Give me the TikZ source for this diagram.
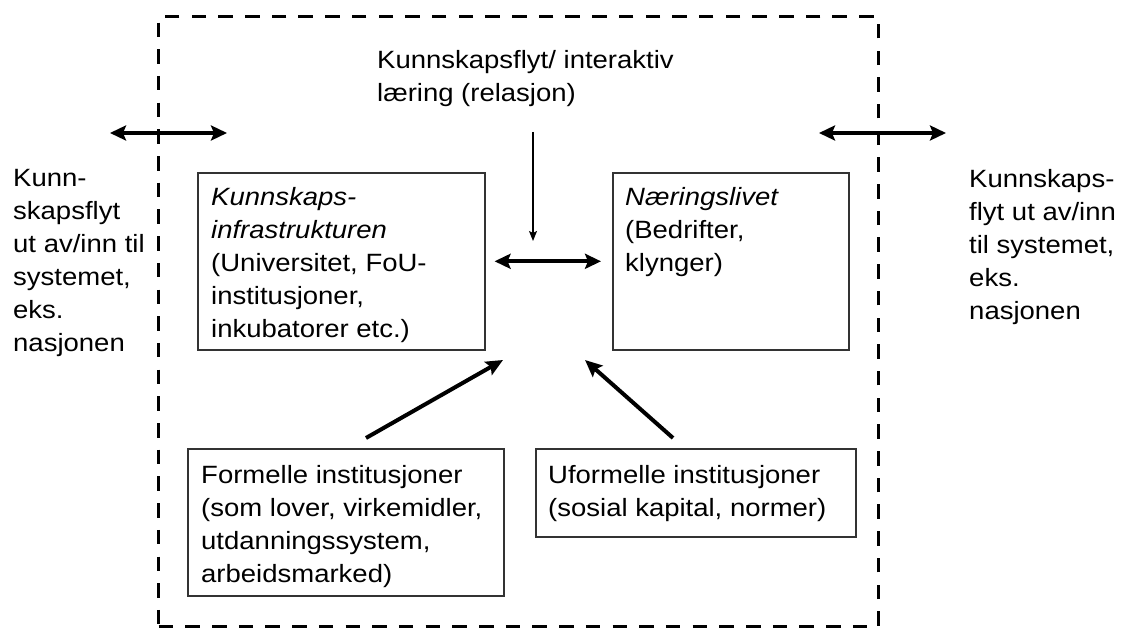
\documentclass[tikz,border=0pt]{standalone}
\usepackage{fontspec}
\setmainfont{Liberation Sans}[FakeStretch=1.1]
\usetikzlibrary{arrows.meta}
\begin{document}
\begin{tikzpicture}[x=1pt,y=-1pt,
  txt/.style={inner sep=0pt,anchor=north west,align=left,font=\fontsize{25}{33}\selectfont,text=black},
  boxframe/.style={draw=black!80,line width=1.6pt,inner sep=0pt,anchor=north west},
  frame/.style={draw=black,line width=3.3pt,dash pattern=on 14.5pt off 12.2pt,inner sep=0pt,anchor=north west},
  dbl/.style={line width=4pt,{Stealth[length=16pt,width=15pt,inset=3pt]}-{Stealth[length=16pt,width=15pt,inset=3pt]}},
  sgl/.style={line width=4pt,-{Stealth[length=17pt,width=15pt,inset=3pt]}},
  thin/.style={line width=1.4pt,-{Stealth[length=10pt,width=8pt,inset=2pt]}}
]
\useasboundingbox (0,0) rectangle (1122,628);
\fill[white] (0,0) rectangle (1122,628);

% dashed system frame
\node[frame,minimum width=720pt,minimum height=610pt] (system) at (157,15) {};

% boxes
\node[boxframe,minimum width=287pt,minimum height=177pt] (kib) at (197,172) {};
\node[boxframe,minimum width=236pt,minimum height=177pt] (nl) at (612,172) {};
\node[boxframe,minimum width=316pt,minimum height=147pt] (form) at (187,448) {};
\node[boxframe,minimum width=320pt,minimum height=88pt] (uform) at (535,448) {};

% texts
\node[txt] (lefttxt) at (13,166) {\vrule height 20pt width 0pt Kunn-\\skapsflyt\\ut av/inn til\\systemet,\\eks.\\nasjonen};
\node[txt] (righttxt) at (969,167) {\vrule height 20pt width 0pt Kunnskaps-\\flyt ut av/inn\\til systemet,\\eks.\\nasjonen};
\node[txt] (toptxt) at (377,48) {\vrule height 20pt width 0pt Kunnskapsflyt/ interaktiv\\læring (relasjon)};
\node[txt] (kibtxt) at (211,185) {\vrule height 20pt width 0pt \textit{Kunnskaps-}\\\textit{infrastrukturen}\\(Universitet, FoU-\\institusjoner,\\inkubatorer etc.)};
\node[txt] (nltxt) at (625,185) {\vrule height 20pt width 0pt \textit{Næringslivet}\\(Bedrifter,\\klynger)};
\node[txt] (formtxt) at (201,463) {\vrule height 20pt width 0pt Formelle institusjoner\\(som lover, virkemidler,\\utdanningssystem,\\arbeidsmarked)};
\node[txt] (uformtxt) at (548,463) {\vrule height 20pt width 0pt Uformelle institusjoner\\(sosial kapital, normer)};

% free ends
\coordinate (la) at (110,133);
\coordinate (lb) at (227,133);
\coordinate (ra) at (819,133);
\coordinate (rb) at (946,133);
\coordinate (dtop) at (533,132);
\coordinate (dbot) at (533,241);
\coordinate (ftail) at (366,438);
\coordinate (fhead) at (503,360);
\coordinate (utail) at (673,438);
\coordinate (uhead) at (585,360);

% connectors
\draw[dbl] (la) -- (lb);
\draw[dbl] (ra) -- (rb);
\draw[thin] (dtop) -- (dbot);
\draw[dbl,shorten <=9pt,shorten >=11pt] (kib.east) -- (nl.west);
\draw[sgl] (ftail) -- (fhead);
\draw[sgl] (utail) -- (uhead);
\end{tikzpicture}
\end{document}
